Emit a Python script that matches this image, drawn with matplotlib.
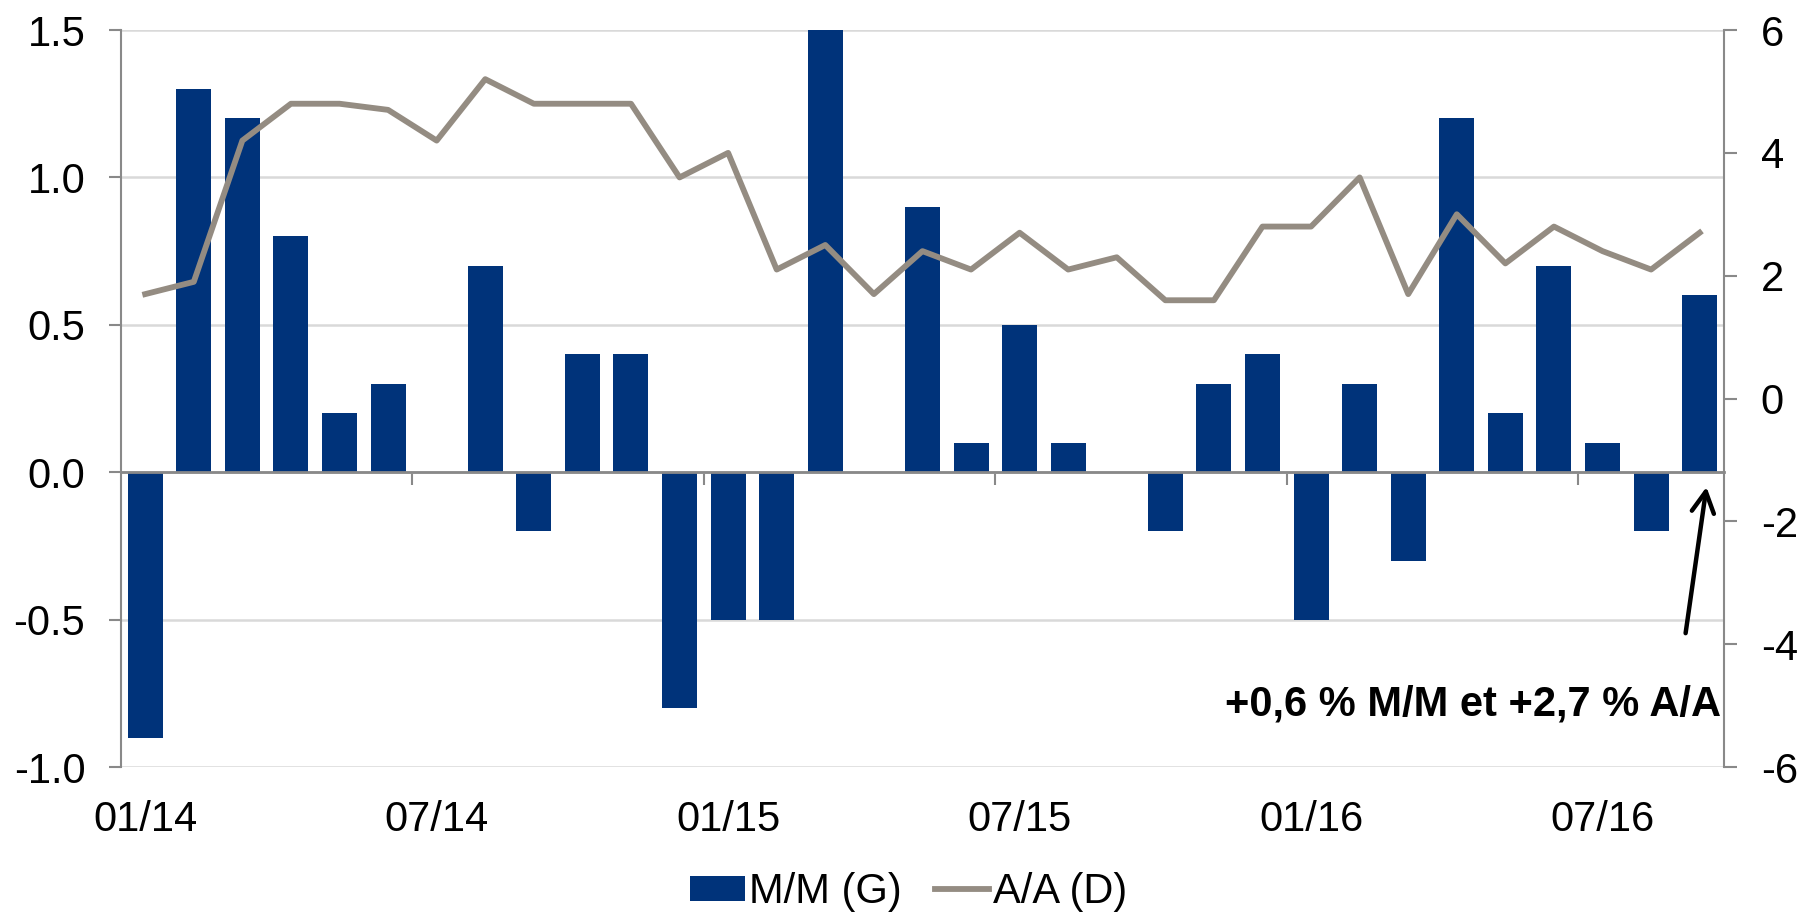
# M/M et A/A : barres (axe gauche) et courbe (axe droit)

import matplotlib
matplotlib.use('Agg')
import matplotlib.pyplot as plt
import numpy as np


# données mensuelles 01/14 - 09/16
mois = ['01/14', '02/14', '03/14', '04/14', '05/14', '06/14', '07/14', '08/14', '09/14', '10/14', '11/14', '12/14',
        '01/15', '02/15', '03/15', '04/15', '05/15', '06/15', '07/15', '08/15', '09/15', '10/15', '11/15', '12/15',
        '01/16', '02/16', '03/16', '04/16', '05/16', '06/16', '07/16', '08/16', '09/16']
mm = [-0.9, 1.3, 1.2, 0.8, 0.2, 0.3, 0.0, 0.7, -0.2, 0.4, 0.4, -0.8,
      -0.5, -0.5, 1.5, 0.0, 0.9, 0.1, 0.5, 0.1, 0.0, -0.2, 0.3, 0.4,
      -0.5, 0.3, -0.3, 1.2, 0.2, 0.7, 0.1, -0.2, 0.6]
aa = [1.7, 1.9, 4.2, 4.8, 4.8, 4.7, 4.2, 5.2, 4.8, 4.8, 4.8, 3.6,
      4.0, 2.1, 2.5, 1.7, 2.4, 2.1, 2.7, 2.1, 2.3, 1.6, 1.6, 2.8,
      2.8, 3.6, 1.7, 3.0, 2.2, 2.8, 2.4, 2.1, 2.7]
gauche_ticks = [-1.0, -0.5, 0.0, 0.5, 1.0, 1.5]
droite_ticks = [-6, -4, -2, 0, 2, 4, 6]
note = '+0,6 % M/M et +2,7 % A/A'

plt.rcParams['font.family'] = ['Liberation Sans', 'DejaVu Sans']
plt.rcParams['axes.unicode_minus'] = False

bleu = '#00337A'
gris = '#948C82'
axe = '#898989'
grille = '#D9D9D9'
fs = 30

x = np.arange(len(mois))

fig = plt.figure(figsize = (18.02, 9.13), dpi = 100)
ax = fig.add_axes([0.0671, 0.1599, 0.8896, 0.8072])

ax.bar(x, mm, width = 0.72, color = bleu, label = 'M/M (G)', zorder = 3)
ax.set_xlim(-0.5, len(mois) - 0.5)
ax.set_ylim(-1.0, 1.5)
ax.set_yticks(gauche_ticks)
ax.set_yticklabels(['%.1f' % v for v in gauche_ticks])
ax.yaxis.grid(True, color = grille, lw = 1.8, zorder = 0)
ax.set_axisbelow(True)

# axe des catégories à zéro
ax.spines['top'].set_visible(False)
ax.spines['right'].set_visible(False)
ax.spines['left'].set_color(axe)
ax.spines['left'].set_linewidth(1.5)
ax.spines['bottom'].set_position(('data', 0))
ax.spines['bottom'].set_color(axe)
ax.spines['bottom'].set_linewidth(2)
ax.spines['bottom'].set_zorder(4)

ax.set_xticks(x[::6])
ax.set_xticklabels(mois[::6])
ax.set_xticks(np.arange(5.5, len(mois) - 1, 6), minor = True)
ax.tick_params(axis = 'x', which = 'major', length = 0, pad = 236, labelsize = fs)
ax.tick_params(axis = 'x', which = 'minor', length = 9.4, width = 1.5, color = axe, direction = 'out')
ax.tick_params(axis = 'y', length = 8.6, width = 1.5, color = axe, labelsize = fs, pad = 17)

# axe droit
ax2 = ax.twinx()
ax2.plot(x, aa, color = gris, lw = 4.2, label = 'A/A (D)', zorder = 5)
ax2.set_ylim(-6, 6)
ax2.set_yticks(droite_ticks)
ax2.set_yticklabels([str(v) for v in droite_ticks])
for s in ['top', 'bottom', 'left']:
    ax2.spines[s].set_visible(False)
ax2.spines['right'].set_color(axe)
ax2.spines['right'].set_linewidth(1.5)
ax2.tick_params(axis = 'y', length = 9.4, width = 1.5, color = axe, labelsize = fs, pad = 17)

# flèche + texte
ax.annotate('', xy = (32.14, -0.05), xytext = (31.71, -0.546),
            arrowprops = dict(arrowstyle = '->,head_length=0.75,head_width=0.4', color = 'black',
                              lw = 3.2, mutation_scale = 20, shrinkA = 0, shrinkB = 0),
            zorder = 6)
ax.text(32.43, -0.824, note, ha = 'right', va = 'baseline', fontsize = fs, fontweight = 'bold', zorder = 6)

h1, l1 = ax.get_legend_handles_labels()
h2, l2 = ax2.get_legend_handles_labels()
fig.legend(h1 + h2, l1 + l2, loc = 'center', bbox_to_anchor = (0.5044, 0.023), ncol = 2,
           frameon = False, fontsize = fs, handlelength = 1.3, handleheight = 0.55,
           handletextpad = 0.1, columnspacing = 0.8, borderpad = 0, borderaxespad = 0)

plt.savefig('out.png', dpi = 100)
